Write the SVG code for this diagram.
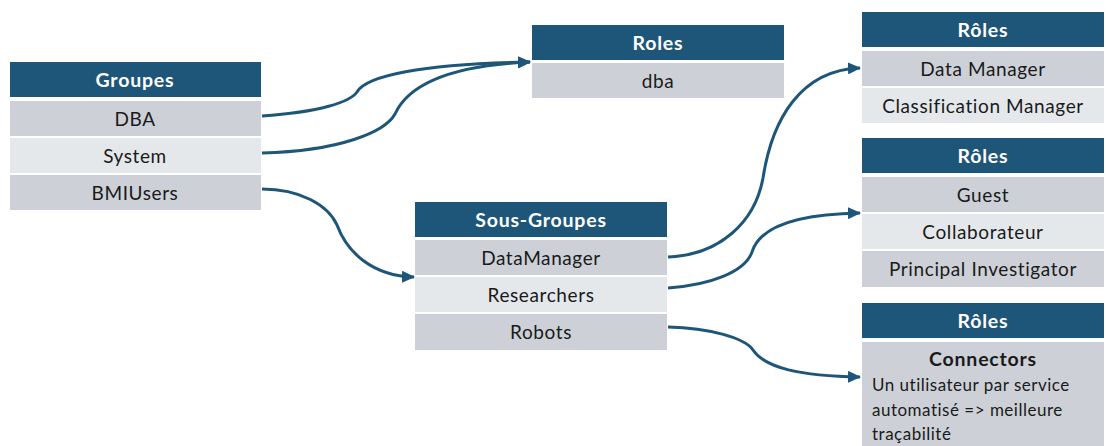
<svg xmlns="http://www.w3.org/2000/svg" width="1106" height="446" viewBox="0 0 1106 446">
<style>
.hd{fill:#1e5679}
.r1{fill:#cdd1d7}
.r2{fill:#e5e8eb}
.ht{font-family:"Lato","Liberation Sans",sans-serif;font-weight:bold;font-size:19.5px;letter-spacing:0.8px;fill:#ffffff;text-anchor:middle}
.rt{font-family:"Lato","Liberation Sans",sans-serif;font-size:19px;letter-spacing:0.6px;fill:#1a1a1a;text-anchor:middle}
.bt{font-family:"Lato","Liberation Sans",sans-serif;font-size:17px;letter-spacing:0.5px;fill:#1a1a1a}
.c{fill:none;stroke:#1e5679;stroke-width:3;marker-end:url(#ah)}
</style>
<defs>
<marker id="ah" markerUnits="userSpaceOnUse" markerWidth="14" markerHeight="12" refX="12" refY="6" orient="auto">
<path d="M0,0 L13,6 L0,12 Z" fill="#1e5679"/>
</marker>
</defs>
<rect width="1106" height="446" fill="#ffffff"/>
<g id="groupes">
<rect class="hd" x="10" y="62" width="251" height="35"/>
<text class="ht" x="135" y="87">Groupes</text>
<rect class="r1" x="10" y="101" width="251" height="35"/>
<text class="rt" x="135" y="126">DBA</text>
<rect class="r2" x="10" y="138" width="251" height="35"/>
<text class="rt" x="135" y="163">System</text>
<rect class="r1" x="10" y="175" width="251" height="35"/>
<text class="rt" x="135" y="200">BMIUsers</text>
</g>
<g id="roles-dba">
<rect class="hd" x="532" y="25" width="252" height="35"/>
<text class="ht" x="658" y="50">Roles</text>
<rect class="r1" x="532" y="63" width="252" height="35"/>
<text class="rt" x="658" y="88">dba</text>
</g>
<g id="sous-groupes">
<rect class="hd" x="415" y="202" width="252" height="35"/>
<text class="ht" x="541" y="227">Sous-Groupes</text>
<rect class="r1" x="415" y="240" width="252" height="35"/>
<text class="rt" x="541" y="265">DataManager</text>
<rect class="r2" x="415" y="277" width="252" height="35"/>
<text class="rt" x="541" y="302">Researchers</text>
<rect class="r1" x="415" y="314" width="252" height="36"/>
<text class="rt" x="541" y="339">Robots</text>
</g>
<g id="roles-1">
<rect class="hd" x="862" y="12" width="242" height="35"/>
<text class="ht" x="983" y="37">Rôles</text>
<rect class="r1" x="862" y="51" width="242" height="35"/>
<text class="rt" x="983" y="76">Data Manager</text>
<rect class="r2" x="862" y="88" width="242" height="35"/>
<text class="rt" x="983" y="113">Classification Manager</text>
</g>
<g id="roles-2">
<rect class="hd" x="862" y="138" width="242" height="35"/>
<text class="ht" x="983" y="163">Rôles</text>
<rect class="r1" x="862" y="177" width="242" height="35"/>
<text class="rt" x="983" y="202">Guest</text>
<rect class="r2" x="862" y="214" width="242" height="35"/>
<text class="rt" x="983" y="239">Collaborateur</text>
<rect class="r1" x="862" y="251" width="242" height="36"/>
<text class="rt" x="983" y="276">Principal Investigator</text>
</g>
<g id="roles-3">
<rect class="hd" x="862" y="303" width="242" height="35"/>
<text class="ht" x="983" y="328">Rôles</text>
<rect class="r1" x="862" y="342" width="242" height="110"/>
<text class="ht" x="983" y="366" style="fill:#1a1a1a">Connectors</text>
<text class="bt" x="872" y="391">Un utilisateur par service</text>
<text class="bt" x="872" y="416">automatisé =&gt; meilleure</text>
<text class="bt" x="872" y="440">traçabilité</text>
</g>
<g id="connectors">
<path class="c" d="M262,116 C320,112 350,102 357,92 C366,76 420,64 530,62"/>
<path class="c" d="M262,153 C340,151 385,132 395,114 C406,90 440,66 530,62"/>
<path class="c" d="M262,189 C300,189 328,205 337,225 C347,252 372,276 414,277"/>
<path class="c" d="M668,257 C720,255 755,222 763,178 C772,120 800,70 860,68"/>
<path class="c" d="M668,288 C710,285 745,272 752,252 C760,226 800,214 860,213"/>
<path class="c" d="M668,327 C710,328 745,338 753,350 C765,368 800,376 860,377"/>
</g>
</svg>
